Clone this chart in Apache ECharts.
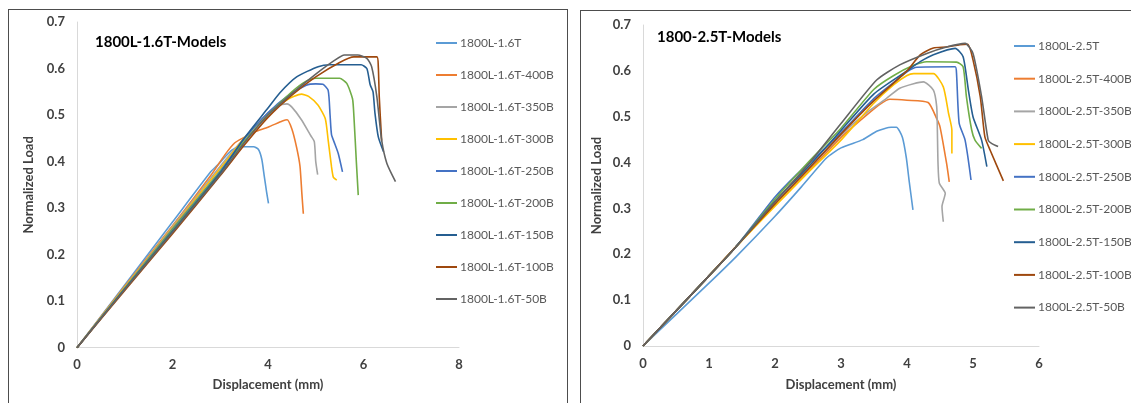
<!DOCTYPE html>
<html>
<head>
<meta charset="utf-8">
<script src="https://cdn.jsdelivr.net/npm/echarts@6/dist/echarts.min.js"></script>
<style>
html,body{margin:0;padding:0;background:#fff;}
#chart{position:absolute;left:0;top:0;width:1131px;height:403px;}
.frame{position:absolute;border:1px solid #4d4d4d;pointer-events:none;}
</style>
</head>
<body>
<div id="chart"></div>
<div class="frame" style="left:8px;top:9px;width:558px;height:420px;"></div>
<div class="frame" style="left:580px;top:10px;width:600px;height:420px;"></div>
<script>
// ---------- Left panel: 1800L-1.6T-Models ----------
const leftTitle = '1800L-1.6T-Models';
const leftNames = ['1800L-1.6T','1800L-1.6T-400B','1800L-1.6T-350B','1800L-1.6T-300B','1800L-1.6T-250B','1800L-1.6T-200B','1800L-1.6T-150B','1800L-1.6T-100B','1800L-1.6T-50B'];
const L_base = [[0,0],[1,0.135],[2,0.27],[2.8,0.378],[2.95,0.393],[3.1,0.41],[3.25,0.425],[3.4,0.432],[3.7,0.432],[3.8,0.426],[3.87,0.405],[3.92,0.37],[3.97,0.335],[4.01,0.31]];
const L_400 = [[0,0],[1,0.132],[2,0.262],[2.8,0.37],[3.1,0.415],[3.3,0.44],[3.5,0.452],[3.7,0.463],[4.0,0.474],[4.3,0.487],[4.4,0.49],[4.5,0.47],[4.6,0.43],[4.67,0.39],[4.71,0.33],[4.74,0.288]];
const L_350 = [[0,0],[1,0.13],[2,0.26],[3,0.39],[3.5,0.45],[4.0,0.505],[4.2,0.52],[4.4,0.524],[4.5,0.517],[4.7,0.49],[4.9,0.455],[4.97,0.443],[5.0,0.40],[5.04,0.372]];
const L_300 = [[0,0],[1,0.13],[2,0.258],[3,0.385],[3.5,0.45],[4.0,0.502],[4.4,0.533],[4.7,0.545],[4.85,0.54],[5.05,0.521],[5.2,0.492],[5.26,0.446],[5.33,0.389],[5.37,0.366],[5.44,0.36]];
const L_250 = [[0,0],[1,0.128],[2,0.255],[3,0.38],[3.5,0.448],[4.0,0.505],[4.4,0.54],[4.8,0.564],[5.0,0.567],[5.15,0.566],[5.26,0.553],[5.3,0.5],[5.33,0.458],[5.4,0.438],[5.47,0.418],[5.56,0.378]];
const L_200 = [[0,0],[1,0.127],[2,0.253],[3,0.378],[3.5,0.443],[4.0,0.50],[4.5,0.55],[4.8,0.573],[5.0,0.579],[5.5,0.579],[5.65,0.568],[5.77,0.535],[5.8,0.496],[5.85,0.4],[5.89,0.328]];
const L_150 = [[0,0],[1,0.126],[2,0.25],[3,0.376],[3.5,0.45],[4.0,0.515],[4.25,0.548],[4.6,0.582],[5.05,0.604],[5.3,0.608],[5.95,0.608],[6.07,0.6],[6.14,0.565],[6.2,0.55],[6.24,0.504],[6.31,0.453],[6.42,0.421]];
const L_100 = [[0,0],[1,0.123],[2,0.245],[3,0.37],[3.5,0.435],[4.0,0.495],[4.5,0.543],[5.0,0.582],[5.5,0.613],[5.8,0.625],[6.28,0.625],[6.31,0.604],[6.33,0.539],[6.38,0.445]];
const L_50 = [[0,0],[1,0.125],[2,0.248],[3,0.372],[3.5,0.44],[4.0,0.5],[4.5,0.546],[5.0,0.588],[5.4,0.618],[5.6,0.629],[5.88,0.629],[6.07,0.622],[6.17,0.604],[6.28,0.539],[6.38,0.446],[6.49,0.396],[6.67,0.357]];
const leftData = [L_base,L_400,L_350,L_300,L_250,L_200,L_150,L_100,L_50];

// ---------- Right panel: 1800-2.5T-Models ----------
const rightTitle = '1800-2.5T-Models';
const rightNames = ['1800L-2.5T','1800L-2.5T-400B','1800L-2.5T-350B','1800L-2.5T-300B','1800L-2.5T-250B','1800L-2.5T-200B','1800L-2.5T-150B','1800L-2.5T-100B','1800L-2.5T-50B'];
const R_base = [[0,0],[1,0.137],[1.42,0.196],[2,0.283],[2.4,0.347],[2.78,0.41],[3.0,0.432],[3.33,0.45],[3.55,0.469],[3.76,0.477],[3.84,0.477],[3.93,0.455],[3.99,0.41],[4.03,0.363],[4.09,0.297]];
const R_400 = [[0,0],[1,0.153],[1.4,0.215],[2,0.31],[2.5,0.38],[3,0.455],[3.4,0.505],[3.6,0.528],[3.74,0.538],[4.0,0.536],[4.32,0.531],[4.45,0.496],[4.5,0.478],[4.6,0.398],[4.64,0.358]];
const R_350 = [[0,0],[1,0.153],[1.4,0.215],[2,0.31],[2.5,0.385],[3,0.46],[3.4,0.51],[3.69,0.54],[3.89,0.562],[4.1,0.572],[4.25,0.576],[4.4,0.558],[4.45,0.522],[4.46,0.471],[4.47,0.398],[4.49,0.355],[4.58,0.333],[4.53,0.304],[4.55,0.271]];
const R_300 = [[0,0],[1,0.153],[1.4,0.215],[2,0.305],[2.5,0.378],[3,0.449],[3.5,0.53],[3.8,0.57],[4.0,0.59],[4.1,0.594],[4.4,0.594],[4.55,0.565],[4.63,0.507],[4.68,0.471],[4.68,0.42]];
const R_250 = [[0,0],[1,0.153],[1.4,0.215],[1.7,0.27],[2,0.325],[2.3,0.37],[2.6,0.41],[3,0.465],[3.5,0.54],[3.8,0.575],[4.0,0.598],[4.15,0.608],[4.73,0.609],[4.75,0.595],[4.79,0.486],[4.88,0.449],[4.97,0.362]];
const R_200 = [[0,0],[1,0.153],[1.4,0.215],[2,0.32],[2.5,0.40],[3,0.475],[3.5,0.56],[3.8,0.59],[4.1,0.612],[4.3,0.62],[4.75,0.619],[4.85,0.609],[4.9,0.544],[4.98,0.471],[5.03,0.449],[5.13,0.431]];
const R_150 = [[0,0],[1,0.153],[1.4,0.215],[2,0.315],[2.5,0.39],[3,0.47],[3.5,0.55],[4.0,0.6],[4.2,0.62],[4.4,0.635],[4.73,0.649],[4.85,0.631],[4.93,0.558],[5.0,0.5],[5.13,0.449],[5.21,0.391]];
const R_100 = [[0,0],[1,0.153],[1.4,0.215],[2,0.31],[2.5,0.385],[3,0.462],[3.5,0.535],[4.0,0.6],[4.2,0.635],[4.4,0.65],[4.6,0.652],[4.8,0.657],[4.92,0.658],[5.0,0.624],[5.11,0.544],[5.18,0.456],[5.26,0.427],[5.46,0.36]];
const R_50 = [[0,0],[1,0.153],[1.4,0.215],[2,0.315],[2.5,0.395],[3,0.485],[3.54,0.58],[3.89,0.613],[4.3,0.638],[4.6,0.652],[4.88,0.66],[5.0,0.638],[5.13,0.544],[5.23,0.449],[5.28,0.442],[5.38,0.435]];
const rightData = [R_base,R_400,R_350,R_300,R_250,R_200,R_150,R_100,R_50];

// axis ticks
const leftXTicks = [0,2,4,6,8];
const rightXTicks = [0,1,2,3,4,5,6];
const yTicks = [0,0.1,0.2,0.3,0.4,0.5,0.6,0.7];

const colors = ['#5B9BD5','#ED7D31','#A5A5A5','#FFC000','#4472C4','#70AD47','#255E91','#9E480E','#636363'];
const FONT = 'Lato, "Open Sans", sans-serif';

function xAxis(gridIndex, ticks, gap){
  return {
    type:'value', gridIndex, min:ticks[0], max:ticks[ticks.length-1], interval:ticks[1]-ticks[0],
    name:'Displacement (mm)', nameLocation:'middle', nameGap:gap,
    nameTextStyle:{fontFamily:FONT, fontWeight:'bold', fontSize:13, color:'#404040'},
    axisLine:{show:true, lineStyle:{color:'#D9D9D9', width:1}},
    axisTick:{show:false}, splitLine:{show:false},
    axisLabel:{margin:11, fontFamily:FONT, fontWeight:'bold', fontSize:13, color:'#404040'}
  };
}
function yAxis(gridIndex, gap){
  return {
    type:'value', gridIndex, min:yTicks[0], max:yTicks[yTicks.length-1], interval:0.1,
    name:'Normalized Load', nameLocation:'middle', nameGap:gap, nameRotate:90,
    nameTextStyle:{fontFamily:FONT, fontWeight:'bold', fontSize:13, color:'#404040'},
    axisLine:{show:true, lineStyle:{color:'#D9D9D9', width:1}},
    axisTick:{show:false}, splitLine:{show:false},
    axisLabel:{margin:12, fontFamily:FONT, fontWeight:'bold', fontSize:13, color:'#404040',
      formatter: v => String(Math.round(v*10)/10)}
  };
}
function mkSeries(names, data, idx){
  return names.map((n,i)=>({
    name:n, type:'line', xAxisIndex:idx, yAxisIndex:idx, data:data[i],
    showSymbol:false, symbol:'none', smooth:0.2,
    lineStyle:{width:1.6, color:colors[i]}, itemStyle:{color:colors[i]},
    animation:false
  }));
}
function legend(names, left, top, gap){
  return {
    data:names, orient:'vertical', left, top, icon:'rect', itemWidth:21, itemHeight:2,
    itemGap:gap, padding:0,
    textStyle:{fontFamily:FONT, fontSize:12, color:'#595959', lineHeight:14, padding:[0,0,0,-2]}
  };
}

const chart = echarts.init(document.getElementById('chart'), null, {renderer:'canvas'});
chart.setOption({
  animation:false,
  backgroundColor:'transparent',
  color:colors,
  title:[
    {text:leftTitle, left:95, top:35, padding:0, textStyle:{fontFamily:FONT, fontWeight:'bold', fontSize:15, color:'#000'}},
    {text:rightTitle, left:657, top:30, padding:0, textStyle:{fontFamily:FONT, fontWeight:'bold', fontSize:15, color:'#000'}}
  ],
  legend:[ legend(leftNames, 436, 36, 18), legend(rightNames, 1014, 39, 18.7) ],
  grid:[
    {left:77, top:22, width:382, height:325.7},
    {left:643, top:25, width:396, height:321}
  ],
  xAxis:[ xAxis(0, leftXTicks, 31), xAxis(1, rightXTicks, 32.5) ],
  yAxis:[ yAxis(0, 41.5), yAxis(1, 39.5) ],
  series:[ ...mkSeries(leftNames, leftData, 0), ...mkSeries(rightNames, rightData, 1) ]
});
</script>
</body>
</html>
